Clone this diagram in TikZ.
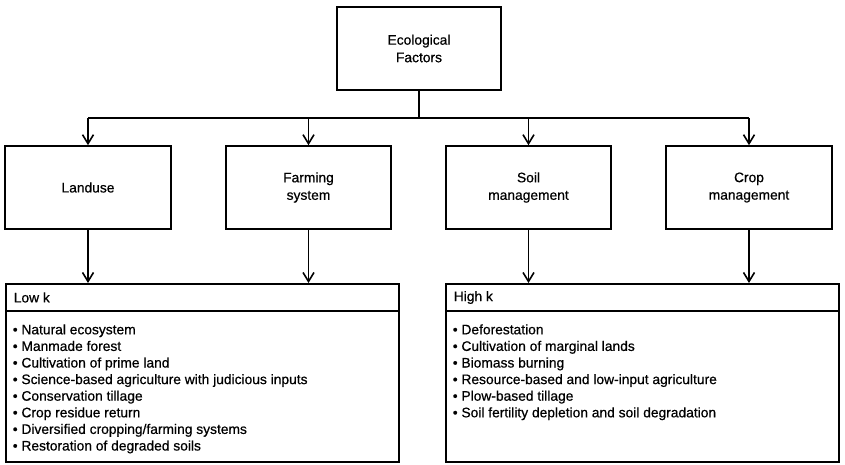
\documentclass[tikz,border=0pt]{standalone}
\usepackage{fontspec}
\setmainfont{Liberation Sans}[FakeBold=0.6]
\usetikzlibrary{arrows.meta}
\begin{document}
\begin{tikzpicture}[x=1pt,y=-1pt,
  line width=1.6pt,
  box/.style={draw, minimum width=164pt, minimum height=83pt, align=center, inner sep=0pt,
    font=\fontsize{13.8}{17.5}\selectfont},
  bigbox/.style={draw, minimum width=393pt, minimum height=178pt, anchor=north west, inner sep=0pt},
  arr/.style={-{Straight Barb[length=9pt,width=11pt,line width=1.6pt]}},
  head/.style={anchor=west, inner sep=0pt, font=\fontsize{13.8}{16}\selectfont},
  lst/.style={anchor=north west, inner sep=0pt, align=left, font=\fontsize{13.8}{16.6}\selectfont}
]
\useasboundingbox (0,0) rectangle (845,465);
\node[box] (top) at (419,48.5) {Ecological\\Factors};
\node[box, minimum width=166pt] (l1) at (88,187.5) {Landuse};
\node[box, minimum width=165pt] (l2) at (308.5,187.5) {Farming\\system};
\node[box, minimum width=165pt] (l3) at (528.5,187.5) {Soil\\management};
\node[box, minimum width=166pt] (l4) at (749,187.5) {Crop\\management};
\coordinate (bus) at (419,118);
\draw (top.south) -- (bus);
\draw (l1 |- bus) -- (l4 |- bus);
\foreach \n in {l1,l2,l3,l4} {\draw[arr] (\n |- bus) -- (\n.north);}

\node[bigbox] (low) at (5,283) {};
\node[bigbox] (high) at (445,283) {};
\draw (low.west |- 0,311) -- (low.east |- 0,311);
\draw (high.west |- 0,311) -- (high.east |- 0,311);
\node[head] (lowh) at (13,297.5) {Low k};
\node[head] (highh) at (453,297.5) {High k};
\node[lst] (lowl) at (12,323.5) {• Natural ecosystem\\• Manmade forest\\• Cultivation of prime land\\• Science-based agriculture with judicious inputs\\• Conservation tillage\\• Crop residue return\\• Diversified cropping/farming systems\\• Restoration of degraded soils};
\node[lst] (highl) at (452,323.5) {• Deforestation\\• Cultivation of marginal lands\\• Biomass burning\\• Resource-based and low-input agriculture\\• Plow-based tillage\\• Soil fertility depletion and soil degradation};

\draw[arr] (l1.south) -- (l1.south |- low.north);
\draw[arr] (l2.south) -- (l2.south |- low.north);
\draw[arr] (l3.south) -- (l3.south |- high.north);
\draw[arr] (l4.south) -- (l4.south |- high.north);
\end{tikzpicture}
\end{document}
